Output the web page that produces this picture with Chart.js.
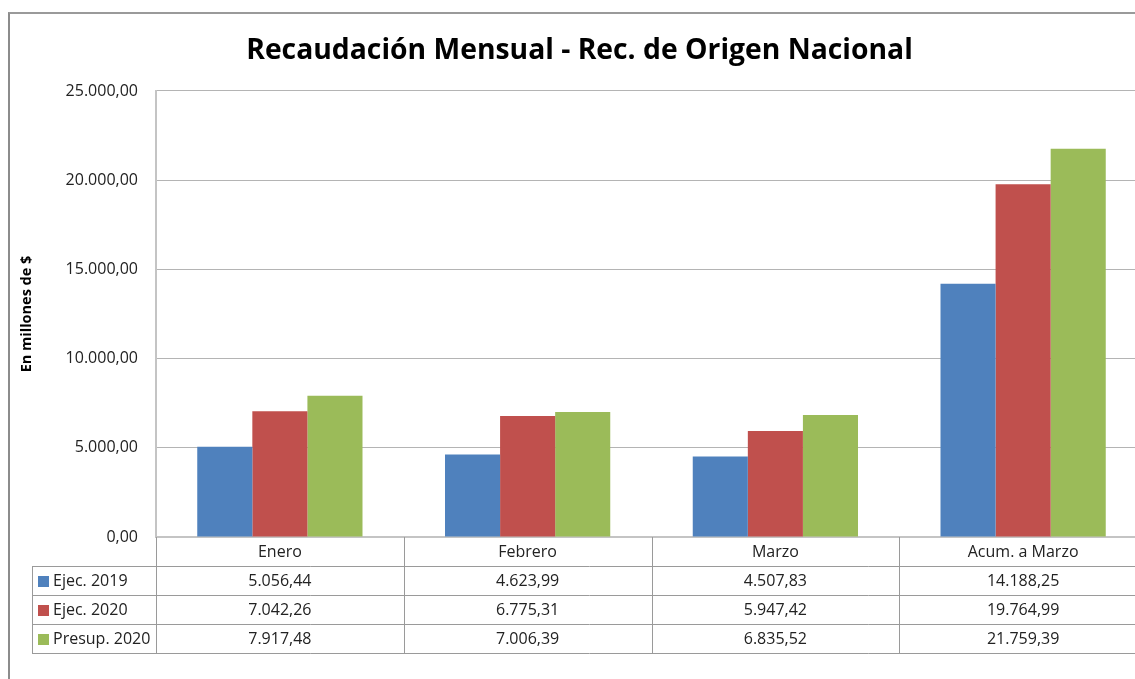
<!DOCTYPE html>
<html>
<head>
<meta charset="utf-8">
<script src="https://cdn.jsdelivr.net/npm/chart.js@4.4.1/dist/chart.umd.min.js"></script>
<style>
  html, body { margin: 0; padding: 0; background: #fff; overflow: hidden; }
  #frame { position: absolute; left: 8px; top: 12px; width: 1300px; height: 800px;
           border-left: 2px solid #8c8c8c; border-top: 2px solid #9a9a9a; }
  #myChart { position: absolute; left: 0; top: 0; }
</style>
</head>
<body>
<div id="frame"></div>
<canvas id="myChart" width="1160" height="679"></canvas>
<script>
const categories = ['Enero', 'Febrero', 'Marzo', 'Acum. a Marzo'];
const ejec2019 = [5056.44, 4623.99, 4507.83, 14188.25];
const ejec2020 = [7042.26, 6775.31, 5947.42, 19764.99];
const presup2020 = [7917.48, 7006.39, 6835.52, 21759.39];
const seriesNames = ['Ejec. 2019', 'Ejec. 2020', 'Presup. 2020'];
const seriesColors = ['#4F81BD', '#C0504D', '#9BBB59'];

const FONT = "'Open Sans', 'Liberation Sans', sans-serif";

// 25000 -> "25.000,00"
function formatNumber(v) {
    const parts = Number(v).toFixed(2).split('.');
    parts[0] = parts[0].replace(/\B(?=(\d{3})+(?!\d))/g, '.');
    return parts[0] + ',' + parts[1];
}

// draws the data table under the plot, using the x scale for the columns
const dataTablePlugin = {
    id: 'dataTable',
    afterDraw(chart) {
        const ctx = chart.ctx;
        const area = chart.chartArea;
        const x = chart.scales.x;
        const rowH = 29;
        const colW = x.width / categories.length;
        const top = area.bottom;
        const legendLeft = 32;
        const rows = [ejec2019, ejec2020, presup2020];
        const bottom = top + rowH * (rows.length + 1);

        ctx.save();
        ctx.strokeStyle = '#9a9a9a';
        ctx.lineWidth = 1;

        // horizontal lines
        for (let r = 1; r <= rows.length + 1; r++) {
            const y = Math.round(top + r * rowH) + 0.5;
            ctx.beginPath();
            ctx.moveTo(legendLeft, y);
            ctx.lineTo(area.right, y);
            ctx.stroke();
        }
        // vertical lines
        ctx.beginPath();
        ctx.moveTo(legendLeft + 0.5, top + rowH);
        ctx.lineTo(legendLeft + 0.5, bottom);
        ctx.stroke();
        for (let i = 0; i <= categories.length; i++) {
            const xx = Math.round(x.getPixelForValue(i) - colW / 2) + 0.5;
            ctx.beginPath();
            ctx.moveTo(xx, top);
            ctx.lineTo(xx, bottom);
            ctx.stroke();
        }

        ctx.fillStyle = '#222';
        ctx.font = '16px ' + FONT;
        ctx.textAlign = 'center';
        ctx.textBaseline = 'middle';

        // header
        categories.forEach((c, i) => {
            ctx.fillText(c, x.getPixelForValue(i), top + rowH / 2 + 1);
        });

        // rows
        rows.forEach((vals, r) => {
            const cy = top + rowH * (r + 1) + rowH / 2 + 1;
            vals.forEach((v, i) => {
                ctx.fillStyle = '#222';
                ctx.fillText(formatNumber(v), x.getPixelForValue(i), cy);
            });
            ctx.fillStyle = seriesColors[r];
            ctx.fillRect(38, Math.round(cy - 6), 11, 11);
            ctx.fillStyle = '#222';
            ctx.textAlign = 'left';
            ctx.fillText(seriesNames[r], 53, cy);
            ctx.textAlign = 'center';
        });
        ctx.restore();
    }
};

const ctx = document.getElementById('myChart');

const data = {
    labels: categories,
    datasets: [
        { label: seriesNames[0], data: ejec2019, backgroundColor: seriesColors[0] },
        { label: seriesNames[1], data: ejec2020, backgroundColor: seriesColors[1] },
        { label: seriesNames[2], data: presup2020, backgroundColor: seriesColors[2] }
    ]
};

const config = {
    type: 'bar',
    data: data,
    plugins: [dataTablePlugin],
    options: {
        responsive: false,
        animation: false,
        layout: { padding: { left: 12, right: 13, top: 0, bottom: 0 } },
        datasets: {
            bar: { categoryPercentage: 0.667, barPercentage: 1.0, borderWidth: 0 }
        },
        plugins: {
            legend: { display: false },
            tooltip: { enabled: false },
            title: {
                display: true,
                text: 'Recaudación Mensual - Rec. de Origen Nacional',
                color: '#000',
                font: { family: FONT, size: 28.3, weight: 'bold' },
                padding: { top: 34, bottom: 23 }
            }
        },
        scales: {
            x: {
                grid: { display: false, drawTicks: false },
                border: { color: '#c4c4c4', width: 2 },
                ticks: { display: false },
                afterFit(scale) { scale.height = 142; }
            },
            y: {
                min: 0,
                max: 25000,
                ticks: {
                    stepSize: 5000,
                    padding: 18,
                    color: '#222',
                    font: { family: FONT, size: 16 },
                    callback: (v) => formatNumber(v)
                },
                grid: { color: '#b4b4b4', drawTicks: false },
                border: { color: '#c4c4c4', width: 2 },
                title: {
                    display: true,
                    text: 'En millones de $',
                    color: '#000',
                    font: { family: FONT, size: 14.5, weight: 'bold' },
                    padding: { top: 6.5, bottom: 0 }
                },
                afterFit(scale) { scale.width = 144; }
            }
        }
    }
};

new Chart(ctx, config);
</script>
</body>
</html>
